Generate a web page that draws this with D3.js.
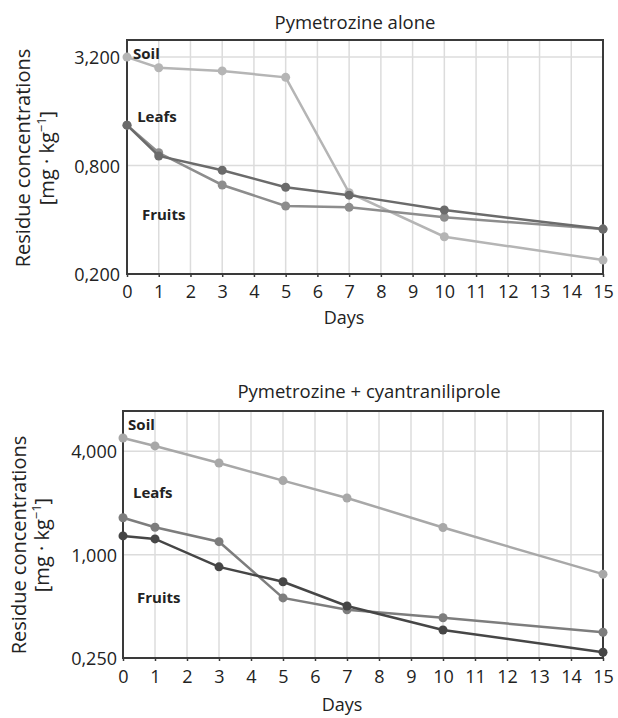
<!DOCTYPE html>
<html lang="en">
<head>
<meta charset="UTF-8">
<title>Pymetrozine residues</title>
<script src="https://d3js.org/d3.v7.min.js"></script>
<style>
  body { margin: 0; background: #fff; }
  text { font-family: "Open Sans", sans-serif; fill: #222; }
  .tick text { font-size: 18px; fill: #222; }
  .grid line { stroke: #dcdcdc; stroke-width: 1.5px; }
  .series path { fill: none; stroke-width: 2.5px; }
  .lbl { font-weight: bold; font-size: 15px; }
</style>
</head>
<body>
<svg width="618" height="718"></svg>
<script>
// data
const days = [0, 1, 3, 5, 7, 10, 15];
const dayTicks = d3.range(0, 16);

const aloneSoil   = [3.2, 2.79, 2.68, 2.47, 0.565, 0.322, 0.239];
const aloneLeafs  = [1.34, 0.942, 0.624, 0.477, 0.469, 0.413, 0.355];
const aloneFruits = [1.34, 0.904, 0.753, 0.606, 0.548, 0.453, 0.355];

const comboSoil   = [4.78, 4.30, 3.42, 2.70, 2.14, 1.44, 0.77];
const comboLeafs  = [1.64, 1.445, 1.19, 0.56, 0.477, 0.429, 0.353];
const comboFruits = [1.286, 1.235, 0.849, 0.695, 0.502, 0.364, 0.27];

const aloneTicks = [0.2, 0.8, 3.2];
const aloneTickLabels = ["0,200", "0,800", "3,200"];
const comboTicks = [0.25, 1, 4];
const comboTickLabels = ["0,250", "1,000", "4,000"];

const seriesNames = ["Soil", "Leafs", "Fruits"];

const panels = [
  {
    title: "Pymetrozine alone",
    series: [aloneSoil, aloneLeafs, aloneFruits],
    colors: ["#b5b5b5", "#8d8d8d", "#6b6b6b"],
    ticks: aloneTicks, tickLabels: aloneTickLabels,
    yDomain: [0.2, 3.98],
    box: {left: 127, right: 603, top: 40, bottom: 274},
    titleX: 355, titleY: 29,
    xLabelY: 298, daysY: 324, tickGap: 7,
    yTitleX: [30, 54], yTitleY: 158,
    labelPos: [[0.19, 3.12], [0.32, 1.39], [0.47, 0.40]]
  },
  {
    title: "Pymetrozine + cyantraniliprole",
    series: [comboSoil, comboLeafs, comboFruits],
    colors: ["#a8a8a8", "#7d7d7d", "#464646"],
    ticks: comboTicks, tickLabels: comboTickLabels,
    yDomain: [0.25, 6.87],
    box: {left: 123, right: 603, top: 411, bottom: 658},
    titleX: 369, titleY: 398,
    xLabelY: 683, daysY: 711, tickGap: 6,
    yTitleX: [26, 49], yTitleY: 545,
    labelPos: [[0.16, 5.3], [0.31, 2.13], [0.44, 0.52]]
  }
];

const svg = d3.select("svg");

panels.forEach(function(p) {
  const b = p.box;
  const x = d3.scaleLinear().domain([0, 15]).range([b.left, b.right]);
  const y = d3.scaleLog().domain(p.yDomain).range([b.bottom, b.top]);
  const g = svg.append("g");

  // grid
  const grid = g.append("g").attr("class", "grid");
  grid.selectAll(".vx").data(dayTicks.slice(1, -1)).enter().append("line")
      .attr("x1", d => x(d)).attr("x2", d => x(d))
      .attr("y1", b.top).attr("y2", b.bottom);
  grid.selectAll(".hy").data(p.ticks.slice(1)).enter().append("line")
      .attr("x1", b.left).attr("x2", b.right)
      .attr("y1", d => y(d)).attr("y2", d => y(d));

  // box
  g.append("rect")
      .attr("x", b.left).attr("y", b.top)
      .attr("width", b.right - b.left).attr("height", b.bottom - b.top)
      .attr("fill", "none").attr("stroke", "#3a3a3a").attr("stroke-width", 2);

  // axes
  const xAxis = g.append("g")
      .attr("transform", "translate(0," + b.bottom + ")")
      .call(d3.axisBottom(x).tickValues(dayTicks).tickSize(3).tickPadding(3));
  xAxis.select(".domain").remove();
  xAxis.selectAll(".tick line").attr("stroke", "#3a3a3a").attr("stroke-width", 1.5);
  xAxis.selectAll(".tick text").attr("y", p.xLabelY - b.bottom).attr("dy", 0);

  const yAxis = g.append("g")
      .attr("transform", "translate(" + b.left + ",0)")
      .call(d3.axisLeft(y).tickValues(p.ticks)
            .tickFormat((d, i) => p.tickLabels[i]).tickSize(0).tickPadding(p.tickGap));
  yAxis.select(".domain").remove();
  yAxis.selectAll(".tick text").attr("dy", "0.36em");

  // series
  p.series.forEach(function(vals, si) {
    const pts = days.map((d, i) => ({day: d, value: vals[i]}));
    const sg = g.append("g").attr("class", "series");
    sg.append("path")
        .datum(pts)
        .attr("stroke", p.colors[si])
        .attr("d", d3.line().x(d => x(d.day)).y(d => y(d.value)));
    sg.selectAll("circle").data(pts).enter().append("circle")
        .attr("cx", d => x(d.day)).attr("cy", d => y(d.value))
        .attr("r", 4.5).attr("fill", p.colors[si]);
  });

  // series labels
  seriesNames.forEach(function(name, i) {
    g.append("text").attr("class", "lbl")
        .attr("x", x(p.labelPos[i][0])).attr("y", y(p.labelPos[i][1]))
        .text(name);
  });

  // titles
  g.append("text")
      .attr("x", p.titleX).attr("y", p.titleY)
      .attr("text-anchor", "middle").attr("font-size", 18.5)
      .text(p.title);
  g.append("text")
      .attr("x", (b.left + b.right) / 2 - 21).attr("y", p.daysY)
      .attr("text-anchor", "middle").attr("font-size", 18)
      .text("Days");

  g.append("text")
      .attr("transform", "translate(" + p.yTitleX[0] + "," + p.yTitleY + ") rotate(-90)")
      .attr("text-anchor", "middle").attr("font-size", 20)
      .text("Residue concentrations");
  const unit = g.append("text")
      .attr("transform", "translate(" + p.yTitleX[1] + "," + p.yTitleY + ") rotate(-90)")
      .attr("text-anchor", "middle").attr("font-size", 20);
  unit.append("tspan").text("[mg · kg");
  unit.append("tspan").attr("font-size", 13).attr("dy", -8).text("−1");
  unit.append("tspan").attr("dy", 8).text("]");
});
</script>
</body>
</html>
